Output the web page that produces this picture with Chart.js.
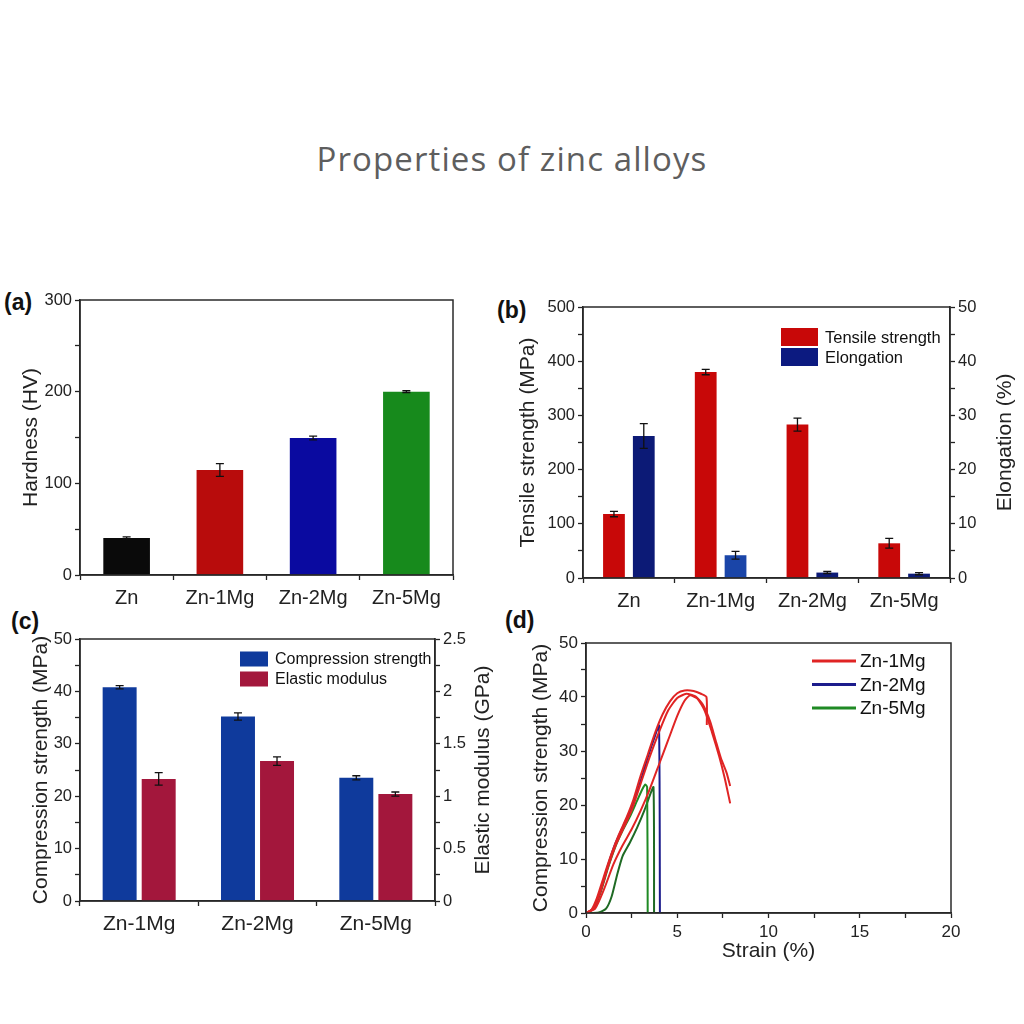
<!DOCTYPE html>
<html>
<head>
<meta charset="utf-8">
<script src="https://cdn.jsdelivr.net/npm/chart.js@4.4.1/dist/chart.umd.min.js"></script>
<style>
  html, body { margin: 0; padding: 0; background: #fff; }
  body { width: 1024px; height: 1024px; position: relative; overflow: hidden; font-family: "Liberation Sans", Arial, sans-serif; }
  .title { position: absolute; left: 0; width: 1024px; top: 136px; text-align: center; font-family: "Open Sans", sans-serif; font-size: 33px; letter-spacing: 1.1px; color: #5e5e5e; }
  .tag { position: absolute; font-weight: bold; font-size: 23px; color: #111; line-height: 1; }
  canvas { position: absolute; }
</style>
</head>
<body>
<div class="title">Properties of zinc alloys</div>
<div class="tag" style="left:4px;top:291px">(a)</div>
<div class="tag" style="left:497px;top:299px">(b)</div>
<div class="tag" style="left:11px;top:610px">(c)</div>
<div class="tag" style="left:505px;top:609px">(d)</div>
<canvas id="chartA" width="470" height="345" style="left:0;top:280px"></canvas>
<canvas id="chartB" width="524" height="345" style="left:500px;top:280px"></canvas>
<canvas id="chartC" width="500" height="330" style="left:0;top:625px"></canvas>
<canvas id="chartD" width="524" height="355" style="left:500px;top:625px"></canvas>
<script>
/* Zinc alloy properties, four panels */
const FONT = '"Liberation Sans", Arial, sans-serif';

// (a) hardness
const alloysA = ['Zn', 'Zn-1Mg', 'Zn-2Mg', 'Zn-5Mg'];
const hardness = [40.5, 114.5, 149.5, 200];
const hardnessErr = [1, 7, 2, 1];

// (b) tensile test
const alloysB = ['Zn', 'Zn-1Mg', 'Zn-2Mg', 'Zn-5Mg'];
const tensile = [118, 380, 283, 64];
const tensileErr = [5, 5, 12, 9];
const elongation = [26.2, 4.2, 1.0, 0.8];
const elongationErr = [2.3, 0.7, 0.2, 0.2];

// (c) compression test
const alloysC = ['Zn-1Mg', 'Zn-2Mg', 'Zn-5Mg'];
const compression = [40.8, 35.2, 23.5];
const compressionErr = [0.3, 0.7, 0.4];
const modulus = [1.165, 1.335, 1.02];
const modulusErr = [0.06, 0.04, 0.02];

// (d) stress-strain curves, [strain %, stress MPa]
const zn1MgRunA = [[0,0],[0.3,0.6],[0.6,2.8],[1.0,7],[1.4,11],[1.8,14.5],[2.2,17.5],[2.6,21],[3.0,25.5],[3.4,29.5],[3.8,33.5],[4.2,36.8],[4.6,39.2],[5.0,40.7],[5.4,41.2],[5.9,41.1],[6.3,40.6],[6.6,40],[6.62,34.8]];
const zn1MgRunB = [[0,0],[0.4,0.8],[0.8,4],[1.2,8.5],[1.6,12.3],[2.0,15.3],[2.5,19],[3.0,24],[3.5,29],[4.0,33.5],[4.5,37.5],[5.0,39.8],[5.5,40.6],[6.0,40.1],[6.4,38.6],[6.8,35.5],[7.1,32],[7.4,28.6],[7.7,26],[7.9,23.5]];
const zn1MgRunC = [[0,0],[0.5,0.8],[1.0,4.5],[1.5,9],[2.0,12.5],[2.5,15.5],[3.0,19],[3.5,23],[4.0,27.5],[4.5,32],[5.0,36.5],[5.4,39.3],[5.7,40.3],[6.1,39.7],[6.5,37.5],[6.9,33.5],[7.3,29],[7.6,25],[7.9,20.3]];
const zn2MgRun = [[0,0],[0.4,0.8],[0.8,4.2],[1.2,8.8],[1.6,12.8],[2.0,15.8],[2.5,19.5],[3.0,24.5],[3.4,29],[3.8,33],[4.0,34.7],[4.05,0]];
const zn5MgRunA = [[0,0],[0.4,0.7],[0.8,3.8],[1.2,8.3],[1.6,12.2],[2.0,15.2],[2.4,17.8],[2.8,20.8],[3.1,23],[3.25,23.8],[3.35,23.3],[3.38,0]];
const zn5MgRunB = [[0,0],[0.7,0.1],[1.1,0.8],[1.4,3],[1.7,7],[2.0,10.5],[2.4,13],[2.8,15.8],[3.2,19],[3.5,21.8],[3.7,23.3],[3.73,0]];

const INK = '#222';

// error bars for bar datasets that carry an `errors` array
const errorBars = {
  id: 'errorBars',
  afterDatasetsDraw(chart) {
    const ctx = chart.ctx;
    chart.data.datasets.forEach((ds, i) => {
      if (!ds.errors) return;
      const meta = chart.getDatasetMeta(i);
      const scale = chart.scales[meta.yAxisID];
      ctx.save();
      ctx.strokeStyle = '#111';
      ctx.lineWidth = 1.3;
      meta.data.forEach((bar, j) => {
        const v = ds.data[j], e = ds.errors[j];
        const top = scale.getPixelForValue(v + e);
        const bot = scale.getPixelForValue(v - e);
        const cap = 4;
        ctx.beginPath();
        ctx.moveTo(bar.x, top); ctx.lineTo(bar.x, bot);
        ctx.moveTo(bar.x - cap, top); ctx.lineTo(bar.x + cap, top);
        ctx.moveTo(bar.x - cap, bot); ctx.lineTo(bar.x + cap, bot);
        ctx.stroke();
      });
      ctx.restore();
    });
  }
};

// closed box round the plot area
const frame = {
  id: 'frame',
  afterDraw(chart) {
    const { ctx, chartArea: a } = chart;
    ctx.save();
    ctx.strokeStyle = '#2a2a2a';
    ctx.lineWidth = 1.5;
    ctx.strokeRect(a.left, a.top, a.right - a.left, a.bottom - a.top);
    ctx.restore();
  }
};

// right-hand axis title, read bottom to top like the left one
const sideTitle = {
  id: 'sideTitle',
  afterDraw(chart, args, o) {
    if (!o || !o.text) return;
    const { ctx, chartArea: a } = chart;
    ctx.save();
    ctx.translate(chart.width - o.inset, (a.top + a.bottom) / 2);
    ctx.rotate(-Math.PI / 2);
    ctx.font = o.size + 'px ' + FONT;
    ctx.fillStyle = INK;
    ctx.textAlign = 'center';
    ctx.textBaseline = 'middle';
    ctx.fillText(o.text, 0, 0);
    ctx.restore();
  }
};

// legend drawn inside the plot
const innerLegend = {
  id: 'innerLegend',
  afterDraw(chart, args, o) {
    if (!o || o.x === undefined) return;
    const ctx = chart.ctx;
    let y = o.y;
    ctx.save();
    ctx.font = o.size + 'px ' + FONT;
    ctx.textBaseline = 'middle';
    chart.data.datasets.forEach(ds => {
      if (ds.legendSkip) return;
      const col = ds.legendColor || ds.borderColor || ds.backgroundColor;
      if (o.kind === 'line') {
        ctx.strokeStyle = col;
        ctx.lineWidth = 3;
        ctx.beginPath();
        ctx.moveTo(o.x, y); ctx.lineTo(o.x + o.boxW, y);
        ctx.stroke();
      } else {
        ctx.fillStyle = col;
        ctx.fillRect(o.x, y - o.boxH / 2, o.boxW, o.boxH);
      }
      ctx.fillStyle = '#111';
      ctx.fillText(ds.label, o.x + o.boxW + o.gap, y + 1);
      y += o.rowH;
    });
    ctx.restore();
  }
};

function onEvery(step) {
  return v => Math.abs(v / step - Math.round(v / step)) < 1e-6 ? String(+v.toFixed(2)) : '';
}

function valueAxis(pos, max, minor, major, title, titlePad, width) {
  return {
    position: pos,
    min: 0, max: max,
    afterFit: s => { s.width = width; },
    grid: { drawOnChartArea: false, tickLength: 5, tickWidth: 1.3, tickColor: INK },
    border: { color: INK, width: 1.5 },
    ticks: { stepSize: minor, autoSkip: false, padding: 3, color: INK, font: { size: 16.5 }, callback: onEvery(major) },
    title: { display: !!title, text: title, color: INK, font: { size: 21 }, padding: { top: titlePad, bottom: 0 } }
  };
}

function categoryAxis(height, size) {
  return {
    afterFit: s => { s.height = height; },
    grid: { drawOnChartArea: false, tickLength: 5, tickWidth: 1.3, tickColor: INK },
    border: { color: INK, width: 1.5 },
    ticks: { padding: 6, color: INK, font: { size: size } }
  };
}

Chart.defaults.font.family = FONT;
Chart.defaults.color = INK;

const common = {
  responsive: false,
  animation: false,
  plugins: { legend: { display: false }, tooltip: { enabled: false } }
};

// (a)
new Chart(document.getElementById('chartA'), {
  type: 'bar',
  data: {
    labels: alloysA,
    datasets: [{
      label: 'Hardness',
      data: hardness,
      errors: hardnessErr,
      backgroundColor: ['#0a0a0a', '#b80c0c', '#0a0aa0', '#178a1c'],
      barPercentage: 0.5,
      categoryPercentage: 1
    }]
  },
  options: {
    ...common,
    layout: { padding: { top: 20, right: 17, left: 0, bottom: 0 } },
    scales: {
      x: categoryAxis(50, 20),
      y: valueAxis('left', 300, 50, 100, 'Hardness (HV)', 19, 80)
    }
  },
  plugins: [errorBars, frame]
});

// (b)
new Chart(document.getElementById('chartB'), {
  type: 'bar',
  data: {
    labels: alloysB,
    datasets: [{
      label: 'Tensile strength',
      data: tensile,
      errors: tensileErr,
      yAxisID: 'y',
      backgroundColor: '#c80808',
      barPercentage: 0.73,
      categoryPercentage: 0.65
    }, {
      label: 'Elongation',
      data: elongation,
      errors: elongationErr,
      yAxisID: 'y2',
      backgroundColor: ['#0c1a76', '#1a45a8', '#0c1a76', '#0c1a76'],
      legendColor: '#0c1a80',
      barPercentage: 0.73,
      categoryPercentage: 0.65
    }]
  },
  options: {
    ...common,
    layout: { padding: { top: 27, right: 0, left: 0, bottom: 0 } },
    plugins: {
      ...common.plugins,
      innerLegend: { x: 281, y: 57, rowH: 20, boxW: 37, boxH: 18, gap: 7, size: 16.5 },
      sideTitle: { text: 'Elongation (%)', inset: 19, size: 21 }
    },
    scales: {
      x: categoryAxis(47, 20),
      y: valueAxis('left', 500, 50, 100, 'Tensile strength (MPa)', 16, 83),
      y2: valueAxis('right', 50, 5, 10, '', 0, 74)
    }
  },
  plugins: [errorBars, frame, innerLegend, sideTitle]
});

// (c)
new Chart(document.getElementById('chartC'), {
  type: 'bar',
  data: {
    labels: alloysC,
    datasets: [{
      label: 'Compression strength',
      data: compression,
      errors: compressionErr,
      yAxisID: 'y',
      backgroundColor: '#0f3a9c',
      barPercentage: 0.87,
      categoryPercentage: 0.66
    }, {
      label: 'Elastic modulus',
      data: modulus,
      errors: modulusErr,
      yAxisID: 'y2',
      backgroundColor: '#a3173c',
      barPercentage: 0.87,
      categoryPercentage: 0.66
    }]
  },
  options: {
    ...common,
    layout: { padding: { top: 14, right: 0, left: 0, bottom: 0 } },
    plugins: {
      ...common.plugins,
      innerLegend: { x: 240, y: 34, rowH: 20, boxW: 28, boxH: 15, gap: 7, size: 16 },
      sideTitle: { text: 'Elastic modulus (GPa)', inset: 17, size: 21 }
    },
    scales: {
      x: categoryAxis(54, 21),
      y: valueAxis('left', 50, 5, 10, 'Compression strength (MPa)', 29, 80),
      y2: valueAxis('right', 2.5, 0.25, 0.5, '', 0, 65)
    }
  },
  plugins: [errorBars, frame, innerLegend, sideTitle]
});

// (d)
function run(points, label, color, skip) {
  return {
    label: label,
    data: points.map(([x, y]) => ({ x, y })),
    borderColor: color,
    borderWidth: 2,
    pointRadius: 0,
    showLine: true,
    tension: 0.2,
    legendSkip: skip
  };
}

const strainAxis = valueAxis('bottom', 20, 2.5, 5, 'Strain (%)', 0, 0);
strainAxis.afterFit = s => { s.height = 67; };
strainAxis.title.padding = { top: 0, bottom: 16 };
strainAxis.ticks.font = { size: 17 };
strainAxis.ticks.padding = 4;

const stressAxis = valueAxis('left', 50, 5, 10, 'Compression strength (MPa)', 29, 86);
stressAxis.ticks.font = { size: 17 };

new Chart(document.getElementById('chartD'), {
  type: 'scatter',
  data: {
    datasets: [
      run(zn1MgRunA, 'Zn-1Mg', '#e02424', false),
      run(zn1MgRunB, 'Zn-1Mg', '#e02424', true),
      run(zn1MgRunC, 'Zn-1Mg', '#e02424', true),
      run(zn2MgRun, 'Zn-2Mg', '#1c1c8c', false),
      run(zn5MgRunA, 'Zn-5Mg', '#1f8a24', false),
      run(zn5MgRunB, 'Zn-5Mg', '#1f6a24', true)
    ]
  },
  options: {
    ...common,
    layout: { padding: { top: 18, right: 73, left: 0, bottom: 0 } },
    plugins: {
      ...common.plugins,
      innerLegend: { x: 312, y: 36, rowH: 23.5, boxW: 44, boxH: 3, gap: 4, size: 19, kind: 'line' }
    },
    scales: { x: strainAxis, y: stressAxis }
  },
  plugins: [frame, innerLegend]
});
</script>
</body>
</html>
